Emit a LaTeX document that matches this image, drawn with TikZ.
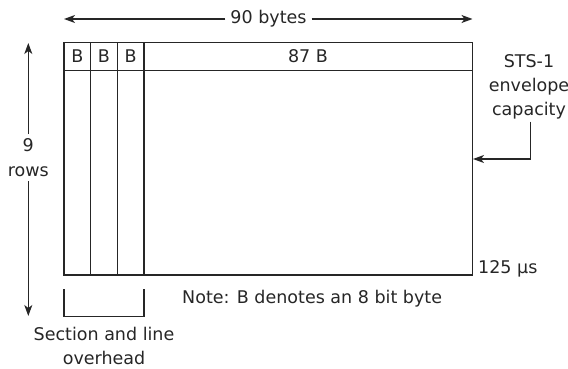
\documentclass[tikz,border=0pt]{standalone}
\usepackage{fontspec}
\setmainfont{DejaVu Sans}
\usetikzlibrary{arrows.meta}
\begin{document}
\begin{tikzpicture}[x=1pt,y=-1pt,
  ln/.style={draw=black!85,line width=1.2pt},
  arr/.style={ln,-{Stealth[length=11pt,width=8pt,inset=3pt]}},
  lbl/.style={font=\fontsize{17.5}{24}\selectfont,text=black!85,inner sep=1pt},
  cell/.style={lbl,anchor=center}]
\useasboundingbox (0,0) rectangle (568,369);
% frame
\coordinate (TL) at (64,42.5);
\coordinate (TR) at (472.5,42.5);
\coordinate (BL) at (64,275);
\coordinate (BR) at (472.5,275);
\draw[ln] (TL) rectangle (BR);
\draw[ln] (64,70.5) -- (472.5,70.5);
\foreach \x in {90.7,117.3,144}{\draw[ln] (\x,42.5) -- (\x,275);}
\node[cell] (b1) at (77.3,56.5) {B};
\node[cell] (b2) at (104,56.5) {B};
\node[cell] (b3) at (130.6,56.5) {B};
\node[cell] (b87) at (308,56.5) {87 B};
% top dimension
\coordinate (ta) at (64,19);
\coordinate (tb) at (472.5,19);
\node[lbl,fill=white,inner xsep=5pt] (bytes) at (268.5,19) {90 bytes};
\draw[arr] (bytes.west) -- (ta);
\draw[arr] (bytes.east) -- (tb);
% left dimension
\coordinate (la) at (28.3,43);
\coordinate (lb) at (28.3,316);
\node[lbl] (nine) at (28.3,145) {9};
\node[lbl] (rows) at (28.3,172) {rows};
\draw[arr] (nine.north) ++(0,-3) -- (la);
\draw[arr] (rows.south) ++(0,3) -- (lb);
% bracket
\draw[ln] (64,289) -- (64,316.5) -- (144,316.5) -- (144,289);
\node[lbl,align=center] (sec) at (104,346) {Section and line\\overhead};
% note
\node[lbl,anchor=west] (note) at (181,299) {Note: B denotes an 8 bit byte};
\node[lbl,anchor=west] (t125) at (477,269) {125 μs};
% STS-1
\node[lbl,align=center] (sts) at (529,87) {STS-1\\envelope\\capacity};
\coordinate (sa) at (530.7,121.5);
\coordinate (sb) at (530.7,159);
\coordinate (sc) at (473,159);
\draw[arr] (sa) -- (sb) -- (sc);
\end{tikzpicture}
\end{document}
